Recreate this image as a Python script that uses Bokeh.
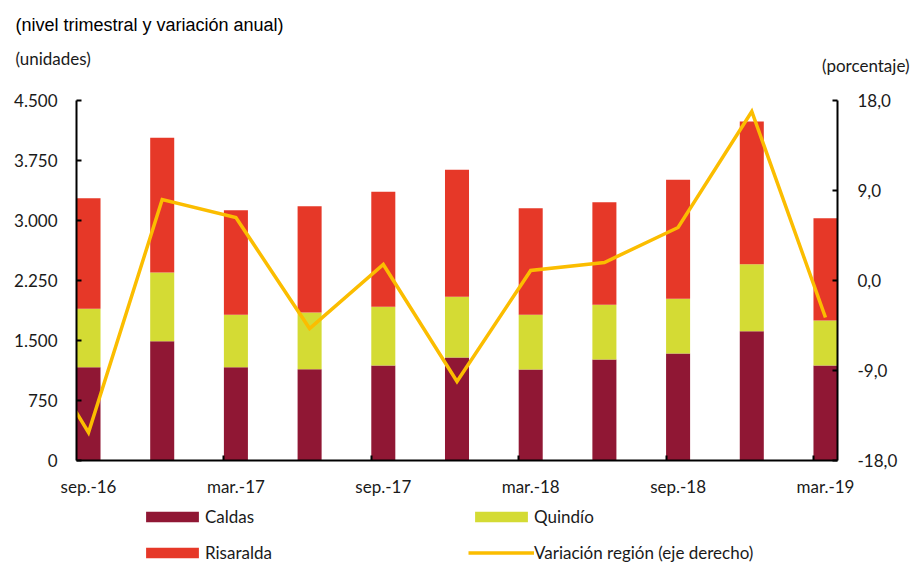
from bokeh.plotting import figure
from bokeh.layouts import column
from bokeh.models import (Range1d, LinearAxis, FixedTicker, Legend, LegendItem, Label,
                          ColumnDataSource)
from bokeh.embed import file_html
from bokeh.resources import INLINE

# ---------------- data ----------------
quarters = ["sep.-16", "dic.-16", "mar.-17", "jun.-17", "sep.-17", "dic.-17",
            "mar.-18", "jun.-18", "sep.-18", "dic.-18", "mar.-19"]
caldas = [1167, 1492, 1167, 1142, 1187, 1287, 1137, 1262, 1337, 1617, 1187]
quindio = [729, 858, 654, 708, 734, 759, 684, 684, 684, 837, 563]
risaralda = [1383, 1683, 1308, 1329, 1437, 1587, 1333, 1283, 1487, 1783, 1279]
variacion_prev = -3.0          # jun.-16 (only the segment entering the chart is visible)
variacion = [-15.2, 8.1, 6.3, -4.8, 1.6, -10.1, 1.0, 1.8, 5.3, 16.9, -3.7]

left_ticks = [0, 750, 1500, 2250, 3000, 3750, 4500]
left_labels = ["0", "750", "1.500", "2.250", "3.000", "3.750", "4.500"]
right_ticks = [-18, -9, 0, 9, 18]
right_labels = ["-18,0", "-9,0", "0,0", "9,0", "18,0"]
xlabel_idx = [0, 2, 4, 6, 8, 10]

subtitle = "(nivel trimestral y variación anual)"
left_unit = "(unidades)"
right_unit = "(porcentaje)"
series_names = ["Caldas", "Quindío", "Risaralda", "Variación región (eje derecho)"]

# ---------------- styles ----------------
C_CALDAS = "#901734"
C_QUINDIO = "#D4DB34"
C_RISARALDA = "#E63828"
C_LINE = "#FBBD00"
C_TEXT = "#1a1a1a"
FONT = "Lato"
BAR_W = 0.326
W = 914

n = len(quarters)
idx = list(range(n))
t1 = caldas
t2 = [a + b for a, b in zip(caldas, quindio)]
t3 = [a + b for a, b in zip(t2, risaralda)]

src = ColumnDataSource(dict(x=idx, b1=[0] * n, t1=t1, t2=t2, t3=t3))
line_src = ColumnDataSource(dict(x=[-1] + idx, y=[variacion_prev] + variacion))

# ---------------- header (texts above the plot) ----------------
HEAD_H = 80
head = figure(width=W, height=HEAD_H, output_backend="svg", toolbar_location=None,
              x_range=Range1d(0, 1), y_range=Range1d(0, 1),
              x_axis_type=None, y_axis_type=None,
              min_border=0, outline_line_color=None)
head.frame_align = False
head.grid.visible = False
head.add_layout(Label(x=15, y=HEAD_H - 24.5, x_units="screen", y_units="screen",
                      text=subtitle, text_font="Liberation Sans", text_font_size="18px",
                      text_baseline="middle", text_color="black"))
head.add_layout(Label(x=15, y=HEAD_H - 58, x_units="screen", y_units="screen",
                      text=left_unit, text_font=FONT, text_font_size="17px",
                      text_baseline="middle", text_color=C_TEXT))
head.add_layout(Label(x=909, y=HEAD_H - 65, x_units="screen", y_units="screen",
                      text=right_unit, text_font=FONT, text_font_size="17px",
                      text_baseline="middle", text_align="right", text_color=C_TEXT))

# ---------------- main chart ----------------
MAIN_H = 420
p = figure(width=W, height=MAIN_H, output_backend="svg", toolbar_location=None,
           x_range=Range1d(-BAR_W / 2, n - 1 + BAR_W / 2),
           y_range=Range1d(0, 4500))
p.frame_align = False
p.min_border_left = 76
p.min_border_right = 77
p.min_border_top = 100 - HEAD_H
p.min_border_bottom = MAIN_H - (460 - HEAD_H)
p.outline_line_color = None
p.xgrid.visible = False
p.ygrid.visible = False

p.vbar(x="x", bottom="b1", top="t1", width=BAR_W, source=src,
       fill_color=C_CALDAS, line_color=None)
p.vbar(x="x", bottom="t1", top="t2", width=BAR_W, source=src,
       fill_color=C_QUINDIO, line_color=None)
p.vbar(x="x", bottom="t2", top="t3", width=BAR_W, source=src,
       fill_color=C_RISARALDA, line_color=None)

p.extra_y_ranges = {"pct": Range1d(-18, 18)}
p.line(x="x", y="y", source=line_src, y_range_name="pct",
       line_color=C_LINE, line_width=3.5, line_join="miter")

ya = p.yaxis[0]
ya.ticker = FixedTicker(ticks=left_ticks)
ya.major_label_overrides = {t: l for t, l in zip(left_ticks, left_labels)}

ra = LinearAxis(y_range_name="pct")
ra.ticker = FixedTicker(ticks=right_ticks)
ra.major_label_overrides = {t: l for t, l in zip(right_ticks, right_labels)}
p.add_layout(ra, "right")

for ax in (ya, ra):
    ax.minor_tick_line_color = None
    ax.axis_line_color = "black"
    ax.axis_line_width = 2
    ax.major_tick_line_color = "black"
    ax.major_tick_line_width = 2
    ax.major_tick_in = 5
    ax.major_tick_out = 0
    ax.major_label_text_font = FONT
    ax.major_label_text_font_size = "17px"
    ax.major_label_text_color = C_TEXT
ya.major_label_standoff = 19
ra.major_label_standoff = 20

xa = p.xaxis[0]
xa.ticker = FixedTicker(ticks=xlabel_idx,
                        minor_ticks=[i - BAR_W / 2 for i in xlabel_idx[1:]])
xa.major_label_overrides = {i: quarters[i] for i in xlabel_idx}
xa.axis_line_color = "black"
xa.axis_line_width = 2
xa.major_tick_line_color = None
xa.major_tick_in = 0
xa.major_tick_out = 0
xa.minor_tick_line_color = "black"
xa.minor_tick_line_width = 2
xa.minor_tick_in = 5
xa.minor_tick_out = 0
xa.major_label_text_font = FONT
xa.major_label_text_font_size = "17px"
xa.major_label_text_color = C_TEXT
xa.major_label_standoff = 15

# ---------------- legend strip ----------------
LEG_H = 563 - HEAD_H - MAIN_H
lf = figure(width=W, height=LEG_H, output_backend="svg", toolbar_location=None,
            x_range=Range1d(-100, -99), y_range=Range1d(-100, -99),
            x_axis_type=None, y_axis_type=None,
            min_border=0, outline_line_color=None)
lf.frame_align = False
lf.grid.visible = False
# hidden copies of the series, only used to draw the legend swatches
lr_c = lf.vbar(x="x", bottom="b1", top="t1", width=BAR_W, source=src,
               fill_color=C_CALDAS, line_color=None, visible=False)
lr_q = lf.vbar(x="x", bottom="t1", top="t2", width=BAR_W, source=src,
               fill_color=C_QUINDIO, line_color=None, visible=False)
lr_r = lf.vbar(x="x", bottom="t2", top="t3", width=BAR_W, source=src,
               fill_color=C_RISARALDA, line_color=None, visible=False)
lr_l = lf.line(x="x", y="y", source=line_src, line_color=C_LINE, line_width=3.5,
               visible=False)


def row_legend(items, loc):
    return Legend(items=items, location=loc, orientation="horizontal",
                  glyph_width=66, glyph_height=13, label_standoff=0,
                  label_width=263, label_height=20, spacing=0,
                  padding=0, margin=0, border_line_color=None,
                  background_fill_alpha=0, inactive_fill_alpha=0,
                  label_text_font=FONT, label_text_font_size="17px",
                  label_text_color=C_TEXT)


row1_center = 517 - (HEAD_H + MAIN_H)
row2_center = 553 - (HEAD_H + MAIN_H)
lf.add_layout(row_legend([LegendItem(label=series_names[0], renderers=[lr_c]),
                          LegendItem(label=series_names[1], renderers=[lr_q])],
                         (139, LEG_H - row1_center - 10)))
lf.add_layout(row_legend([LegendItem(label=series_names[2], renderers=[lr_r]),
                          LegendItem(label=series_names[3], renderers=[lr_l])],
                         (139, LEG_H - row2_center - 10)))

layout = column(head, p, lf, spacing=0)
open("out.html", "w").write(file_html(layout, INLINE))
